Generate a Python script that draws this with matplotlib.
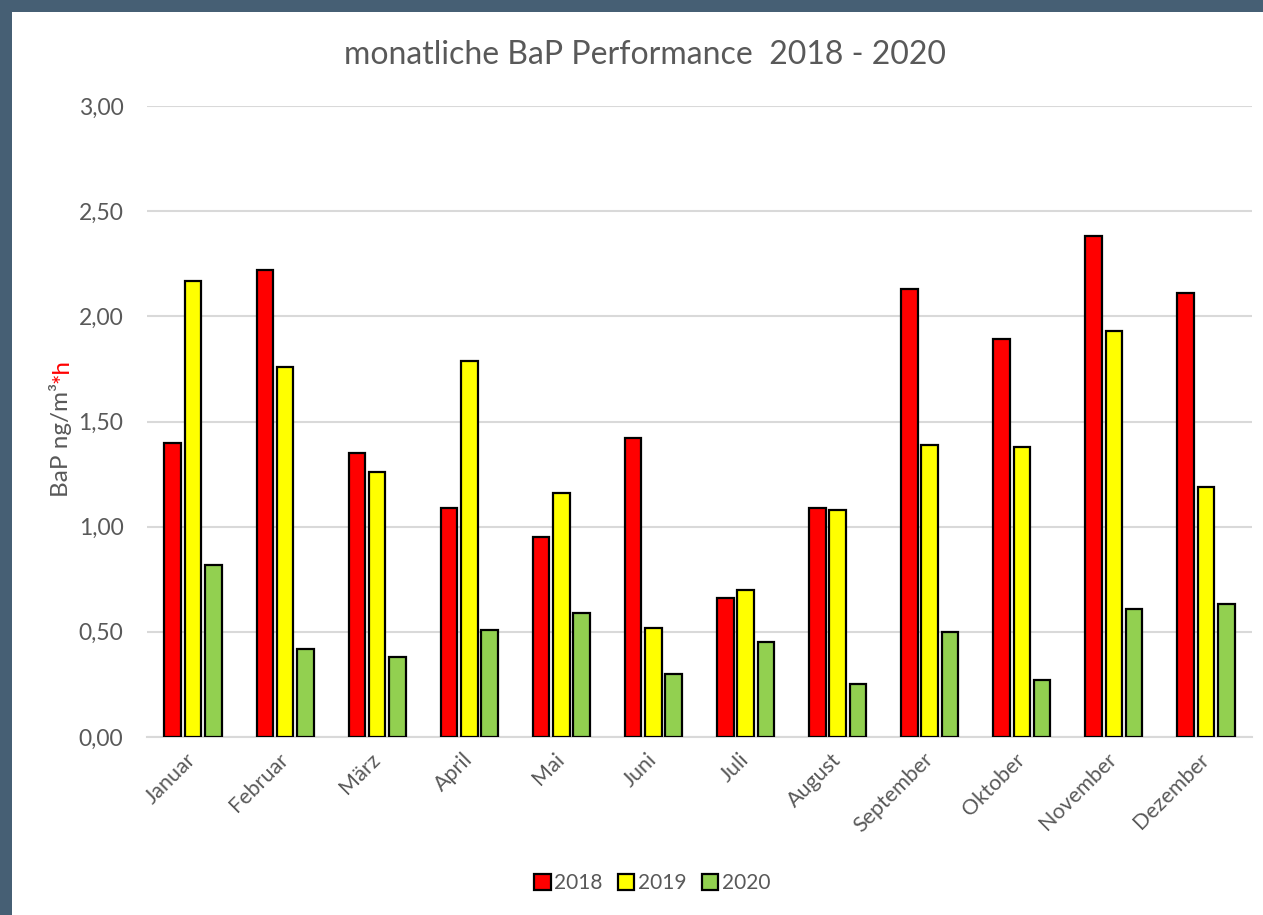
import matplotlib.pyplot as plt
from matplotlib.patches import Rectangle
from matplotlib.ticker import FuncFormatter
import numpy as np

# Daten
monate = ['Januar', 'Februar', 'März', 'April', 'Mai', 'Juni', 'Juli',
          'August', 'September', 'Oktober', 'November', 'Dezember']
jahre = ['2018', '2019', '2020']
werte_2018 = [1.40, 2.22, 1.35, 1.09, 0.95, 1.42, 0.66, 1.09, 2.13, 1.89, 2.38, 2.11]
werte_2019 = [2.17, 1.76, 1.26, 1.79, 1.16, 0.52, 0.70, 1.08, 1.39, 1.38, 1.93, 1.19]
werte_2020 = [0.82, 0.42, 0.38, 0.51, 0.59, 0.30, 0.45, 0.25, 0.50, 0.27, 0.61, 0.63]
farben = ['#ff0000', '#ffff00', '#92d050']

grau = '#595959'
plt.rcParams['font.family'] = ['Lato', 'DejaVu Sans']

W, H = 1263, 915
fig = plt.figure(figsize=(W / 100, H / 100), dpi=100)
fig.patch.set_facecolor('#465f74')
# weisse Fläche innerhalb des Rahmens
fig.add_artist(Rectangle((12 / W, 0), 1, 1 - 12 / H, transform=fig.transFigure,
                         facecolor='white', edgecolor='none', zorder=-1))

ax = fig.add_axes([147 / W, 1 - 737 / H, (1252 - 147) / W, (737 - 106) / H])
ax.set_facecolor('none')

x = np.arange(len(monate))
breite = 0.18
abstand = 0.22
for i, (werte, jahr) in enumerate(zip([werte_2018, werte_2019, werte_2020], jahre)):
    ax.bar(x + (i - 1) * abstand, werte, breite, color=farben[i], edgecolor='black',
           linewidth=1.6, label=jahr, zorder=3)

ax.set_xlim(-0.5, len(monate) - 0.5)
ax.set_ylim(0, 3.0)
ax.set_yticks(np.arange(0, 3.01, 0.5))
ax.yaxis.set_major_formatter(FuncFormatter(lambda v, p: f'{v:.2f}'.replace('.', ',')))
ax.grid(axis='y', color='#d9d9d9', linewidth=1.5, zorder=0)
for s in ['top', 'right', 'left']:
    ax.spines[s].set_visible(False)
ax.spines['bottom'].set_color('#d9d9d9')
ax.spines['bottom'].set_linewidth(1.5)

ax.set_xticks(x)
ax.set_xticklabels(monate, rotation=45, ha='right', va='center', rotation_mode='anchor')
ax.tick_params(axis='x', length=0, pad=14, labelsize=15.5, labelcolor=grau)
ax.tick_params(axis='y', length=0, pad=17, labelsize=16.5, labelcolor=grau)

# Titel
fig.text(645 / W, 1 - 55 / H, 'monatliche BaP Performance  2018 - 2020',
         ha='center', va='center', fontsize=23, color=grau)

# y-Achsenbeschriftung, "*h" in rot
jx, jy = 68 / W, 1 - 383 / H
fig.text(jx, jy, 'BaP ng/m³', rotation=90, rotation_mode='anchor',
         ha='right', va='baseline', fontsize=17.5, color=grau)
fig.text(jx, jy, '*h', rotation=90, rotation_mode='anchor',
         ha='left', va='baseline', fontsize=17.5, color='#ff0000')

fig.legend(loc='center', bbox_to_anchor=(652 / W, 1 - 883 / H), ncol=3, frameon=False,
           handlelength=0.8, handleheight=0.8, handletextpad=0.15, columnspacing=0.75,
           fontsize=15, labelcolor=grau)

fig.savefig('out.png', dpi=100, facecolor=fig.get_facecolor())
